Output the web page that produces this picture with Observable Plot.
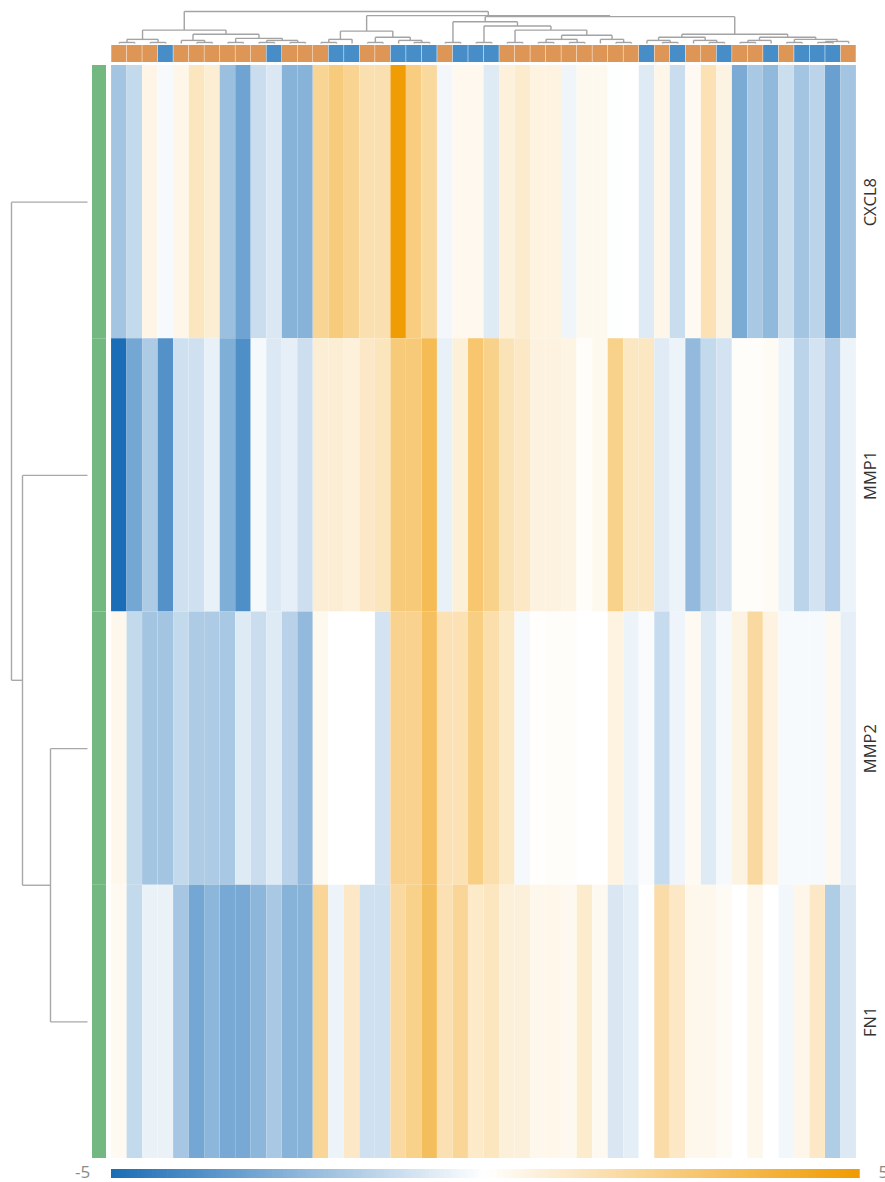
<!DOCTYPE html>
<html><head><meta charset="utf-8">
<script src="https://cdn.jsdelivr.net/npm/d3@7"></script>
<script src="https://cdn.jsdelivr.net/npm/@observablehq/plot@0.6"></script>
<style>
html,body{margin:0;padding:0;background:#fff;overflow:hidden}
#chart{position:relative;width:885px;height:1182px;overflow:hidden;background:#fff}
#chart > svg{position:absolute;overflow:visible}
</style></head><body><div id="chart"></div>
<script>
// ---- data ----
const genes = ["CXCL8", "MMP1", "MMP2", "FN1"];
const cxcl8 = [-2.0,-1.31,0.49,-0.17,0.45,1.24,0.86,-2.18,-3.14,-1.16,-0.79,-2.6,-2.6,2.08,2.57,2.16,1.55,1.55,4.9,2.49,1.9,-0.26,0.33,0.33,-0.72,0.69,1.0,0.61,0.61,-0.33,0.31,0.31,-0.05,0,-0.72,0.45,-1.18,0.24,1.47,0.57,-2.88,-1.88,-2.4,-1.14,-2.0,-1.46,-3.25,-2.0];
const mmp1 = [-5,-3.03,-1.77,-3.76,-1.05,-1.05,-0.5,-2.79,-3.84,-0.2,-0.76,-0.55,-1.09,0.84,0.84,0.69,1.12,1.31,2.6,2.6,3.31,-0.5,0.76,2.82,2.29,1.39,1.16,0.63,0.63,0.53,0.1,0.31,2.29,1.2,1.2,-0.68,-0.41,-2.36,-1.31,-0.96,0.1,0.1,0.2,-0.39,-1.46,-0.96,-1.64,-0.39];
const mmp2 = [0.37,-1.31,-2.0,-2.0,-1.31,-1.77,-1.77,-1.88,-0.72,-1.16,-0.72,-1.53,-2.36,0.31,0,0,0,-0.96,2.22,2.22,3.12,1.47,1.47,2.45,1.65,1.08,-0.22,0.05,0.1,0.1,0,0,0.61,-0.39,-0.13,-1.24,-0.37,0.27,-0.72,-0.22,0.57,1.88,0.61,-0.17,-0.17,-0.17,0.3,-0.55];
const fn1 = [0.25,-1.31,-0.46,-0.46,-1.94,-3.03,-2.51,-2.95,-2.95,-2.51,-1.88,-2.6,-2.6,2.02,-0.41,1.12,-1.05,-1.05,1.86,2.29,3.2,1.51,2.02,1.06,1.25,0.73,0.73,0.37,0.41,0.29,1.0,0.29,-0.81,-0.59,0,1.71,1.12,0.37,0.37,0.2,0,0.37,0,-0.28,0.45,1.12,-1.72,-0.76];
const seriesValues = [cxcl8, mmp1, mmp2, fn1];
// column group annotation (1 = orange group, 2 = blue group)
const colGroups = [1,1,1,2,1,1,1,1,1,1,2,1,1,1,2,2,1,1,2,2,2,1,2,2,2,1,1,1,1,1,1,1,1,1,2,1,2,1,1,2,1,1,2,1,2,2,2,1];
const groupNames = [1, 2];
const groupColors = ["#dc9350", "#418ac6"];
// column dendrogram: [mergeHeight, left, right], leaves = column index
const colTree =
  [31,
    [13, [4, [1,0,1], [1,2,3]],
         [9, [3, 4, [1,5,6]], [5, [1,7,8], [3, [1,9,10], [1,11,12]]]]],
    [27,
      [12, [4, [1,13,14], 15], [6, [1,16,17], [3, 18, [1,19,20]]]],
      [26,
        [21, [1,21,22], [17, [1,23,24], [13, [1,25,26], [8, [4,[1,27,28],[1,29,30]], [4, 31, [1,32,33]]]]]],
        [9, [6, [3, 34, [1,35,36]], [3, 37, [1,38,39]]],
            [6, [3, [1,40,41], 42], [4, [1,43,44], [2, [1,45,46], 47]]]]]]];
// row dendrogram, leaves = row index
const rowTree = [76, 0, [65, 1, [37, 2, 3]]];
const legendTicks = ["-5", "5"];

// ---- helpers ----
function dendroSegments(tree) {
  const segs = [];
  function walk(n) {
    if (typeof n === "number") return {p: n + 0.5, h: 0};
    const [h, a, b] = n;
    const A = walk(a), B = walk(b);
    segs.push({p1: A.p, h1: A.h, p2: A.p, h2: h});
    segs.push({p1: B.p, h1: B.h, p2: B.p, h2: h});
    segs.push({p1: A.p, h1: h, p2: B.p, h2: h});
    return {p: (A.p + B.p) / 2, h};
  }
  walk(tree);
  return segs;
}
const colorOpts = {type: "linear", domain: [-5, 0, 5], range: ["#1a6db6", "#ffffff", "#f09a00"], interpolate: "rgb", clamp: true};
const chart = document.getElementById("chart");
function place(svg, left, top) {
  svg.style.left = left + "px"; svg.style.top = top + "px";
  chart.appendChild(svg);
}
const cols = d3.range(cxcl8.length);
const cells = [];
genes.forEach((g, r) => seriesValues[r].forEach((v, c) => cells.push({gene: g, col: c, value: v})));
const font = "'Open Sans', 'Noto Sans', sans-serif";

// ---- column dendrogram ----
place(Plot.plot({
  width: 885, height: 45, marginLeft: 111, marginRight: 29, marginTop: 0, marginBottom: 0,
  x: {domain: [0, cols.length], axis: null},
  y: {domain: [0, 31], range: [43, 11], axis: null},
  marks: [
    Plot.link(dendroSegments(colTree), {x1: "p1", y1: "h1", x2: "p2", y2: "h2", stroke: "#a3a3a3", strokeWidth: 1.4})
  ]
}), 0, 0);

// ---- column annotation bar ----
place(Plot.plot({
  width: 885, height: 17, marginLeft: 111, marginRight: 29, marginTop: 0, marginBottom: 0,
  x: {type: "band", domain: cols, padding: 0, round: false, axis: null},
  y: {type: "band", domain: ["group"], padding: 0, round: false, axis: null},
  color: {type: "ordinal", domain: groupNames, range: groupColors},
  marks: [
    Plot.cell(cols, {x: d => d, y: () => "group", fill: d => colGroups[d], insetLeft: 0.25, insetRight: 0.25, fillOpacity: 0.97})
  ]
}), 0, 45);

// ---- heatmap ----
place(Plot.plot({
  width: 885, height: 1093, marginLeft: 111, marginRight: 29, marginTop: 0, marginBottom: 0,
  x: {type: "band", domain: cols, padding: 0, round: false, axis: null},
  y: {type: "band", domain: genes, padding: 0, round: false, axis: null},
  color: colorOpts,
  style: {fontFamily: font},
  marks: [
    Plot.cell(cells, {x: "col", y: "gene", fill: "value", insetLeft: 0.06, insetRight: 0.06}),
    Plot.text(genes, {y: d => d, frameAnchor: "right", textAnchor: "middle", dx: 14, rotate: -90, fontSize: 16.5, fill: "#333333"})
  ]
}), 0, 65);

// ---- row annotation (green) ----
place(Plot.plot({
  width: 14, height: 1093, margin: 0,
  x: {type: "band", domain: ["all"], padding: 0, round: false, axis: null},
  y: {type: "band", domain: genes, padding: 0, round: false, axis: null},
  marks: [
    Plot.cell(genes, {x: () => "all", y: d => d, fill: "#73b881"})
  ]
}), 92, 65);

// ---- row dendrogram ----
place(Plot.plot({
  width: 92, height: 1093, margin: 0,
  x: {domain: [0, 76], range: [87, 11], axis: null},
  y: {domain: [0, genes.length], range: [0, 1093], axis: null},
  marks: [
    Plot.link(dendroSegments(rowTree), {x1: "h1", y1: "p1", x2: "h2", y2: "p2", stroke: "#a8a8a8", strokeWidth: 1.4})
  ]
}), 0, 65);

// ---- color legend ----
const steps = d3.range(-5, 5, 0.05);
place(Plot.plot({
  width: 885, height: 26, marginLeft: 111, marginRight: 26, marginTop: 13, marginBottom: 4,
  x: {domain: [-5, 5], axis: null},
  color: colorOpts,
  style: {fontFamily: font},
  marks: [
    Plot.rect(steps, {x1: d => d, x2: d => d + 0.06, fill: d => d + 0.025}),
    Plot.text([legendTicks[0]], {x: -5, dx: -29, dy: -1.5, fontSize: 17, fill: "#8a8a8a"}),
    Plot.text([legendTicks[1]], {x: 5, dx: 19, dy: -1.5, textAnchor: "start", fontSize: 17, fill: "#8a8a8a"})
  ]
}), 0, 1156);
</script></body></html>
